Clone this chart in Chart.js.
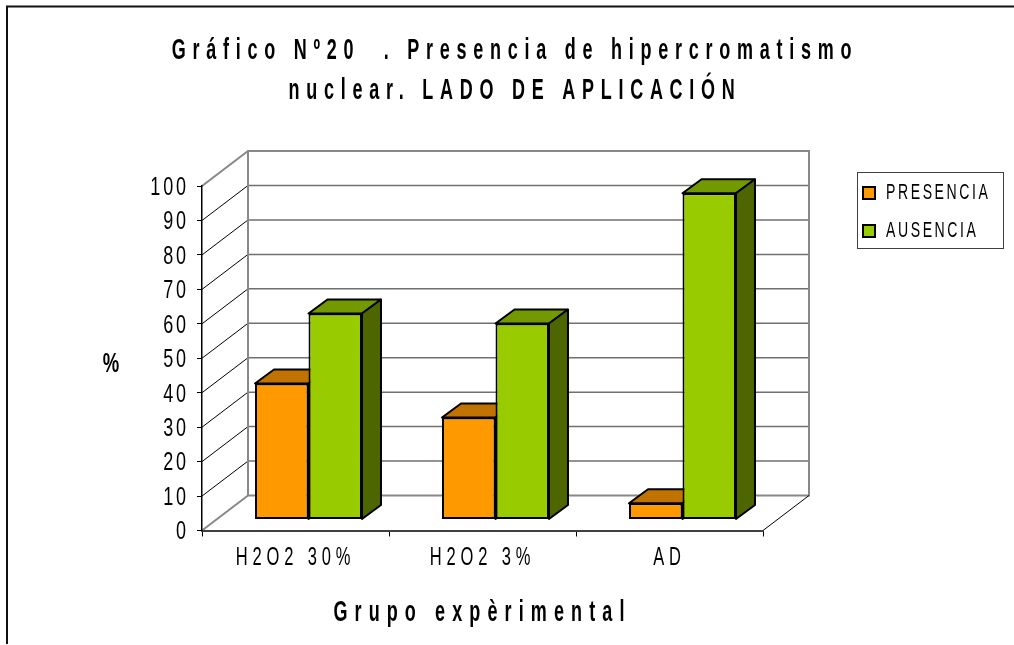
<!DOCTYPE html>
<html>
<head>
<meta charset="utf-8">
<style>
  html, body { margin: 0; background: #fff; overflow: hidden; }
  canvas { display: block; }
</style>
<script src="https://cdn.jsdelivr.net/npm/chart.js@4.4.0/dist/chart.umd.min.js"></script>
</head>
<body>
<canvas id="c" width="1014" height="645"></canvas>
<script>
const titleLines = ['Gráfico Nº20  . Presencia de hipercromatismo', 'nuclear. LADO DE APLICACIÓN'];
const xTitle = 'Grupo expèrimental';
const yTitle = '%';
const categories = ['H2O2 30%', 'H2O2 3%', 'AD'];
const presencia = [39.5, 29.6, 4.7];
const ausencia = [59.8, 56.9, 94.7];

const FONT = '"Liberation Sans", Arial, sans-serif';
// offsets of the fake 3d box
const WALL = { x: 46, y: -35 };
const BAR_SHIFT = { x: 13, y: -11 };
const BAR_DEPTH = { x: 19, y: -14 };

function poly(ctx, pts, fill) {
  ctx.beginPath();
  pts.forEach((p, i) => i ? ctx.lineTo(p[0], p[1]) : ctx.moveTo(p[0], p[1]));
  ctx.closePath();
  ctx.fillStyle = fill;
  ctx.fill();
  ctx.stroke();
}

// no narrow font installed, so squeeze the text and open up the letters
function narrow(ctx, obj, method, sx, spacing, dy = 0) {
  const orig = obj[method];
  obj[method] = function (...args) {
    const fill = ctx.fillText;
    ctx.letterSpacing = spacing;
    ctx.fillText = function (text, x, y) {
      ctx.save();
      ctx.translate(x, y + dy);
      ctx.scale(sx, 1);
      fill.call(ctx, text, 0, 0);
      ctx.restore();
    };
    orig.apply(this, args);
    delete ctx.fillText;
    ctx.letterSpacing = '0px';
  };
}

const box3d = {
  id: 'box3d',
  afterLayout(chart) {
    const ctx = chart.ctx;
    const lg = chart.legend;
    lg.left = 847; lg.right = 1014; lg.top = 166; lg.bottom = 300;
    lg.adjustHitBoxes();
    chart.titleBlock.left = 16;
    chart.titleBlock.right = 1014;
    if (chart.$narrow) return;
    chart.$narrow = true;
    narrow(ctx, chart.titleBlock, 'draw', 0.62, '10.9px');
    narrow(ctx, lg, 'draw', 0.64, '4px');
    narrow(ctx, chart.scales.x, 'drawLabels', 0.66, '7.3px', -2);
    narrow(ctx, chart.scales.x, 'drawTitle', 0.62, '11.5px');
    narrow(ctx, chart.scales.y, 'drawLabels', 0.72, '4px', 2);
  },
  beforeDraw(chart) {
    const { ctx, chartArea: a, scales: { y } } = chart;
    ctx.save();
    // page frame
    ctx.strokeStyle = '#111';
    ctx.lineWidth = 2;
    ctx.beginPath();
    ctx.moveTo(7, 644);
    ctx.lineTo(7, 6.5);
    ctx.lineTo(1014, 6.5);
    ctx.stroke();
    // legend box
    ctx.strokeStyle = '#404040';
    ctx.lineWidth = 1;
    ctx.strokeRect(857.5, 172.5, 146, 76);
    // back wall with grid
    y.ticks.forEach(t => {
      const py = y.getPixelForValue(t.value);
      if (t.value > 0 && t.value < 100) {
        ctx.strokeStyle = '#707070';
        ctx.lineWidth = 1.5;
        ctx.beginPath();
        ctx.moveTo(a.left + WALL.x, py + WALL.y);
        ctx.lineTo(a.right + WALL.x, py + WALL.y);
        ctx.stroke();
        ctx.strokeStyle = '#000';
        ctx.lineWidth = 1;
        ctx.beginPath();
        ctx.moveTo(a.left, py);
        ctx.lineTo(a.left + WALL.x, py + WALL.y);
        ctx.stroke();
      }
    });
    ctx.strokeStyle = '#888';
    ctx.lineWidth = 2;
    ctx.beginPath();
    ctx.moveTo(a.left, a.top);
    ctx.lineTo(a.left + WALL.x, a.top + WALL.y);
    ctx.lineTo(a.right + WALL.x, a.top + WALL.y);
    ctx.lineTo(a.right + WALL.x, a.bottom + WALL.y);
    ctx.lineTo(a.left + WALL.x, a.bottom + WALL.y);
    ctx.lineTo(a.left + WALL.x, a.top + WALL.y);
    ctx.moveTo(a.left + WALL.x, a.bottom + WALL.y);
    ctx.lineTo(a.left, a.bottom);
    ctx.stroke();
    ctx.strokeStyle = '#000';
    ctx.lineWidth = 1;
    ctx.beginPath();
    ctx.moveTo(a.right + WALL.x, a.bottom + WALL.y);
    ctx.lineTo(a.right, a.bottom);
    ctx.stroke();
    // unrotated y title
    ctx.fillStyle = '#000';
    ctx.font = 'bold 28px ' + FONT;
    ctx.textAlign = 'center';
    ctx.textBaseline = 'middle';
    ctx.translate(111, (a.top + a.bottom) / 2 + 6);
    ctx.scale(0.66, 1);
    ctx.fillText(yTitle, 0, 0);
    ctx.restore();
  },
  beforeDatasetsDraw(chart) {
    const ctx = chart.ctx;
    ctx.save();
    ctx.translate(BAR_SHIFT.x, BAR_SHIFT.y);
    ctx.strokeStyle = '#000';
    ctx.lineWidth = 2;
    ctx.lineJoin = 'round';
    chart.data.datasets.forEach((ds, i) => {
      chart.getDatasetMeta(i).data.forEach(bar => {
        const { x, y, base, width } = bar.getProps(['x', 'y', 'base', 'width'], true);
        const l = x - width / 2, r = x + width / 2, dx = BAR_DEPTH.x, dy = BAR_DEPTH.y;
        poly(ctx, [[l, y], [r, y], [r + dx, y + dy], [l + dx, y + dy]], ds.topColor);
        poly(ctx, [[r, y], [r + dx, y + dy], [r + dx, base + dy], [r, base]], ds.sideColor);
      });
    });
    ctx.restore();
    // front faces are drawn shifted too
    ctx.save();
    ctx.translate(BAR_SHIFT.x, BAR_SHIFT.y);
  },
  afterDatasetsDraw(chart) {
    chart.ctx.restore();
  }
};

new Chart(document.getElementById('c'), {
  type: 'bar',
  plugins: [box3d],
  data: {
    labels: categories,
    datasets: [
      { label: 'PRESENCIA', data: presencia, backgroundColor: '#FF9900', topColor: '#C07300', sideColor: '#804D00', borderColor: '#000', borderWidth: 2, borderSkipped: false },
      { label: 'AUSENCIA', data: ausencia, backgroundColor: '#99CC00', topColor: '#739900', sideColor: '#4D6600', borderColor: '#000', borderWidth: 2, borderSkipped: false }
    ]
  },
  options: {
    responsive: false,
    animation: false,
    categoryPercentage: 0.572,
    barPercentage: 1,
    layout: { padding: { left: 0, top: 0, right: 251, bottom: 0 } },
    plugins: {
      tooltip: { enabled: false },
      title: {
        display: true,
        text: titleLines,
        color: '#000',
        font: { family: FONT, size: 29, weight: 'bold', lineHeight: 1.38 },
        padding: { top: 31, bottom: 75 }
      },
      legend: {
        position: 'chartArea',
        align: 'start',
        onClick: null,
        labels: {
          color: '#000',
          boxWidth: 12,
          boxHeight: 12,
          padding: 16,
          font: { family: FONT, size: 22 }
        }
      }
    },
    scales: {
      x: {
        afterFit(s) { s.height = 114.5; },
        grid: { offset: true, drawOnChartArea: false, color: '#000', tickLength: 6 },
        border: { color: '#404040', width: 2 },
        ticks: { color: '#000', padding: 9, maxRotation: 0, font: { family: FONT, size: 25 } },
        title: { display: true, text: xTitle, color: '#000', font: { family: FONT, size: 29, weight: 'bold' }, padding: { top: 0, bottom: 15 } }
      },
      y: {
        min: 0,
        max: 100,
        afterFit(s) { s.width = 202; },
        grid: { drawOnChartArea: false, color: '#000', tickLength: 5 },
        border: { color: '#000', width: 1.5 },
        ticks: { stepSize: 10, color: '#000', padding: 8, font: { family: FONT, size: 25 } }
      }
    }
  }
});
</script>
</body>
</html>
